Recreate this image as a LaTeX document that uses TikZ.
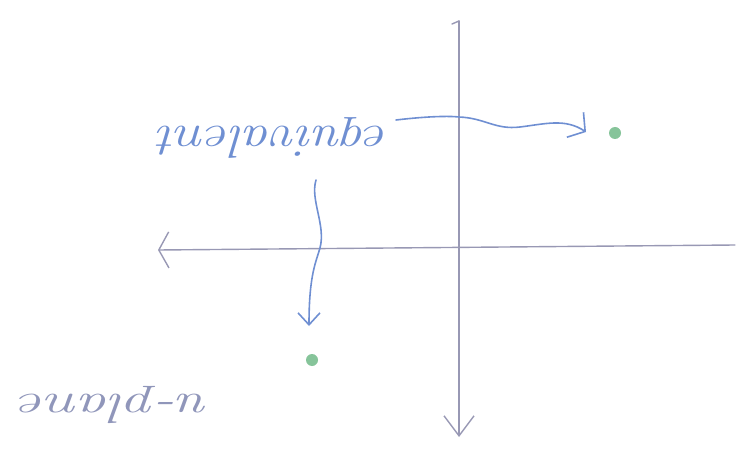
\documentclass[tikz,border=0pt]{standalone}
\usetikzlibrary{arrows.meta}
\definecolor{axisgray}{HTML}{9898B4}
\definecolor{penblue}{HTML}{6F8FD2}
\definecolor{dotgreen}{HTML}{86C49A}
\tikzset{
  axisline/.style={draw=axisgray, line width=1.4pt, line cap=round},
  penline/.style={draw=penblue, line width=1.6pt, line cap=round},
  dotpt/.style={circle, fill=dotgreen, inner sep=0pt, minimum size=12pt},
  handtext/.style={text=penblue, rotate=180, font=\fontsize{46}{46}\selectfont\itshape, inner sep=0pt},
  handtextgray/.style={text=axisgray!80!penblue, rotate=180, font=\fontsize{42}{42}\selectfont\itshape, inner sep=0pt}
}
\begin{document}
\begin{tikzpicture}[x=1pt,y=-1pt]
\useasboundingbox (0,0) rectangle (744,457);
% axes
\coordinate (vT) at (459,21);
\coordinate (vB) at (459,437);
\coordinate (hR) at (735,245);
\coordinate (hL) at (158,250);
\coordinate (vTick) at (452,24);
\draw[axisline, -{Straight Barb[length=20pt,width=30pt,line width=1.4pt]}] (vT) -- (vB);
\draw[axisline] (vTick) -- (vT);
\draw[axisline, -{Straight Barb[length=10pt,width=36pt,line width=1.4pt]}] (hR) -- (hL);
% points
\node[dotpt] (p1) at (615,133) {};
\node[dotpt] (p2) at (312,360) {};
% labels
\node[handtext] (eq) at (274,138) {\scalebox{1.2}[1]{equivalent}};
\node[handtextgray] (up) at (115,405) {\scalebox{1.45}[1]{u-plane}};
% wavy arrows
\coordinate (a1) at (396,120);
\coordinate (a1m) at (459,117);
\coordinate (a1e) at (586,132);
\draw[penline, -{Straight Barb[length=12pt,width=30pt,line width=1.6pt]}]
  (a1) .. controls (430,116) and (450,116) .. (a1m)
  .. controls (485,118) and (495,130) .. (520,127)
  .. controls (545,124) and (565,118) .. (a1e);
\coordinate (b1) at (316,180);
\coordinate (b1m) at (320,248);
\coordinate (b1e) at (309,326);
\draw[penline, -{Straight Barb[length=12pt,width=22pt,line width=1.6pt]}]
  (b1) .. controls (310,200) and (326,225) .. (b1m)
  .. controls (316,262) and (309,275) .. (b1e);
\end{tikzpicture}
\end{document}
